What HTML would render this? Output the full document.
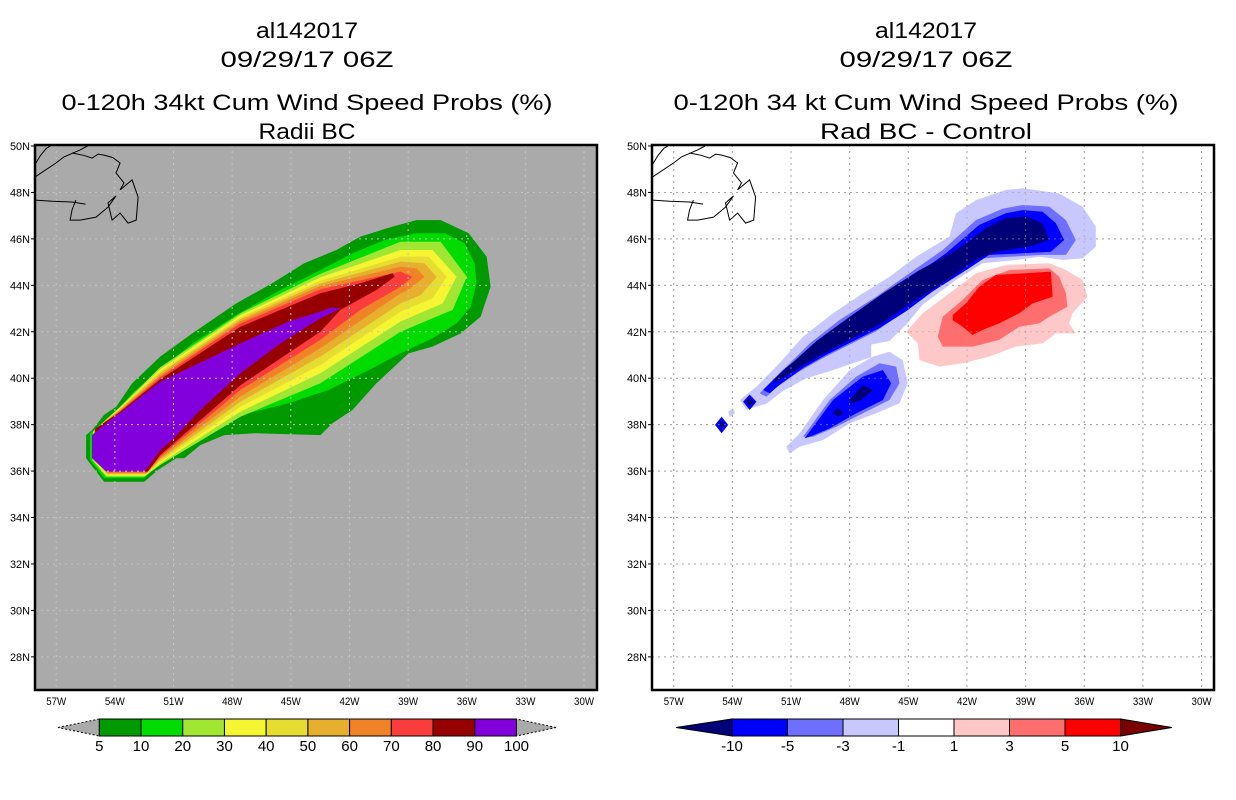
<!DOCTYPE html>
<html><head><meta charset="utf-8"><style>
html,body{margin:0;padding:0;background:#fff;}
svg{display:block;font-family:"Liberation Sans",sans-serif;}
</style></head><body>
<svg id="root" width="1236" height="800" viewBox="0 0 1236 800" xmlns="http://www.w3.org/2000/svg">
<defs>
<clipPath id="clipL"><rect x="35" y="145" width="562" height="545"/></clipPath>
<clipPath id="clipR"><rect x="652" y="145" width="562" height="545"/></clipPath>
</defs>
</svg>
<script>
// ---- data ----
const lonTicks = [-57,-54,-51,-48,-45,-42,-39,-36,-33,-30];
const lonTickLabels = ["57W","54W","51W","48W","45W","42W","39W","36W","33W","30W"];
const latTicks = [28,30,32,34,36,38,40,42,44,46,48,50];
const latTickLabels = ["28N","30N","32N","34N","36N","38N","40N","42N","44N","46N","48N","50N"];

const probLevels = ["5","10","20","30","40","50","60","70","80","90","100"];
const probColors = ["#009900","#00dc00","#a0e632","#f5f532","#e6dc32","#e6af2d","#f08228","#fa3c3c","#960000","#8200dc"];
const diffLevels = ["-10","-5","-3","-1","1","3","5","10"];
const diffColors = ["#0000ff","#6e6eff","#c8c8ff","#ffffff","#ffc8c8","#ff6e6e","#ff0000"];
const diffLowColor = "#000078";
const diffHighColor = "#780000";

// probability contours (lon, lat) - left panel, levels 5..90
const prob5 = [[-54.55,35.54],[-52.5,35.54],[-51.79,36.05],[-50.86,36.55],[-50.45,36.55],[-49.63,37.12],[-48.4,37.55],[-46.76,37.63],[-43.48,37.55],[-42.87,38.06],[-41.85,38.63],[-40.62,39.78],[-38.98,41.07],[-37.75,41.36],[-36.31,41.93],[-35.29,42.65],[-34.78,43.94],[-34.98,45.23],[-35.9,46.24],[-37.34,46.81],[-38.57,46.81],[-39.8,46.53],[-41.44,46.1],[-42.67,45.52],[-44.31,44.95],[-45.95,44.09],[-47.79,43.22],[-50.04,41.93],[-51.68,40.93],[-53.11,39.78],[-53.93,38.77],[-54.55,38.42],[-55.16,37.77],[-55.47,37.55],[-55.47,36.55]];
const prob10 = [[-55.27,37.63],[-54.55,38.06],[-53.94,38.49],[-53.12,39.35],[-51.68,40.35],[-50.04,41.5],[-47.79,42.72],[-45.53,43.8],[-43.48,44.66],[-41.84,45.38],[-40.2,45.95],[-38.57,46.24],[-37.13,46.24],[-36.11,45.81],[-35.6,44.95],[-35.5,44.09],[-35.8,43.08],[-36.52,42.36],[-37.75,41.72],[-39.39,41.07],[-41.02,40.35],[-43.07,39.49],[-45.12,38.92],[-47.17,38.49],[-48.81,37.91],[-50.24,37.2],[-51.27,36.62],[-51.88,36.19],[-52.5,35.69],[-54.55,35.69],[-55.27,36.48]];
const prob20 = [[-55.12,37.7],[-53.73,38.77],[-51.68,40.47],[-47.58,42.79],[-43.49,44.49],[-39.39,45.88],[-37.34,45.88],[-36.0,44.37],[-36.72,42.94],[-39.39,42.0],[-43.49,39.78],[-47.58,38.34],[-51.68,36.26],[-52.5,35.76],[-54.45,35.76],[-55.17,36.48]];
const prob30 = [[-55.1,37.72],[-53.73,38.74],[-51.68,40.38],[-47.58,42.71],[-43.49,44.34],[-39.39,45.52],[-37.75,45.52],[-36.52,44.37],[-37.23,43.22],[-39.39,42.44],[-43.49,40.21],[-47.58,38.56],[-51.68,36.33],[-52.45,35.8],[-54.42,35.8],[-55.12,36.5]];
const prob40 = [[-55.08,37.74],[-53.73,38.7],[-51.68,40.3],[-47.58,42.62],[-43.49,44.2],[-39.39,45.23],[-37.95,45.23],[-37.03,44.37],[-37.75,43.44],[-39.39,42.87],[-43.49,40.57],[-47.58,38.77],[-51.68,36.41],[-52.42,35.84],[-54.4,35.84],[-55.1,36.52]];
const prob50 = [[-55.06,37.76],[-53.73,38.66],[-51.68,40.21],[-47.58,42.54],[-43.49,44.08],[-39.39,45.02],[-38.16,44.95],[-37.54,44.37],[-38.36,43.58],[-39.39,43.22],[-43.49,40.93],[-47.58,38.99],[-51.68,36.48],[-52.4,35.88],[-54.38,35.88],[-55.08,36.54]];
const prob60 = [[-55.04,37.78],[-53.73,38.62],[-51.68,40.12],[-47.58,42.45],[-43.49,43.97],[-39.39,44.8],[-38.57,44.73],[-38.16,44.37],[-38.98,43.8],[-39.39,43.65],[-43.49,41.29],[-47.58,39.21],[-51.68,36.55],[-52.37,35.92],[-54.36,35.92],[-55.06,36.56]];
const prob70 = [[-55.02,37.8],[-53.73,38.58],[-51.68,40.04],[-47.58,42.36],[-43.49,43.83],[-39.39,44.59],[-38.77,44.37],[-39.39,43.94],[-41.44,42.94],[-43.49,41.65],[-47.58,39.49],[-51.68,36.62],[-52.34,35.95],[-54.34,35.95],[-55.04,36.58]];
const prob80 = [[-55.0,37.82],[-53.73,38.55],[-51.68,39.95],[-47.58,42.22],[-43.49,43.66],[-41.44,44.09],[-39.8,44.52],[-39.7,44.37],[-40.62,43.8],[-42.46,42.94],[-43.49,42.0],[-47.58,39.7],[-51.68,36.69],[-52.32,35.98],[-54.32,35.98],[-55.02,36.6]];
const prob90 = [[-55.17,37.55],[-54.45,38.06],[-53.5,38.65],[-51.68,39.85],[-47.58,41.5],[-45.12,42.44],[-43.49,42.87],[-42.87,43.05],[-42.46,43.0],[-43.49,42.58],[-45.53,41.5],[-47.58,40.21],[-49.63,38.63],[-51.06,37.35],[-51.68,36.9],[-52.3,36.19],[-52.5,35.98],[-54.45,35.98],[-55.17,36.55]];

// difference contours (lon, lat) - right panel
const diffLightMain = [[-52.77,39.64],[-51.75,40.5],[-50.38,41.79],[-48.85,42.8],[-47.32,43.66],[-45.96,44.37],[-44.6,45.23],[-42.9,46.1],[-42.56,47.1],[-41.54,47.67],[-40.0,48.11],[-39.15,48.18],[-37.28,47.96],[-36.09,47.39],[-35.41,46.53],[-35.41,45.66],[-36.09,45.16],[-37.11,45.09],[-38.3,45.23],[-39.5,45.09],[-41.2,44.95],[-42.56,44.23],[-44.26,43.17],[-45.11,42.3],[-45.96,41.6],[-46.9,41.45],[-46.9,40.9],[-48.0,40.6],[-49.02,40.3],[-50.21,40.0],[-51.41,39.45],[-52.26,38.9],[-53.28,38.65],[-53.62,39.06]];
const diffMedMain = [[-52.6,39.35],[-51.58,40.21],[-50.04,41.5],[-48.51,42.51],[-46.64,43.51],[-44.94,44.52],[-43.24,45.52],[-41.54,46.81],[-40.18,47.3],[-39.15,47.46],[-37.79,47.39],[-36.94,46.81],[-36.43,45.95],[-36.94,45.31],[-38.13,45.31],[-39.84,45.23],[-41.2,45.16],[-42.56,44.4],[-44.26,43.6],[-45.45,42.74],[-46.64,42.02],[-48.0,41.45],[-49.36,40.87],[-50.56,40.3],[-51.75,39.6],[-52.26,39.2]];
const diffBlueMain = [[-52.43,39.49],[-51.41,40.35],[-49.87,41.36],[-48.34,42.36],[-46.47,43.37],[-44.77,44.37],[-43.07,45.38],[-41.37,46.6],[-40.01,47.1],[-39.15,47.24],[-38.13,47.17],[-37.45,46.67],[-37.03,45.95],[-37.71,45.45],[-39.15,45.38],[-40.86,45.31],[-42.05,44.65],[-43.75,43.74],[-45.11,42.88],[-46.47,42.16],[-47.83,41.59],[-49.19,41.01],[-50.38,40.44],[-51.58,39.72],[-52.09,39.35]];
const diffNavyMain = [[-51.92,39.92],[-51.07,40.55],[-49.7,41.6],[-48.0,42.65],[-46.3,43.65],[-44.43,44.65],[-42.56,45.5],[-41.03,46.45],[-40.01,46.9],[-38.99,46.96],[-38.13,46.67],[-37.79,45.95],[-38.81,45.67],[-40.52,45.45],[-41.54,45.1],[-43.24,44.1],[-44.94,43.2],[-46.3,42.4],[-47.66,41.8],[-49.02,41.2],[-50.21,40.65],[-51.24,40.1],[-51.75,39.85]];
const diffLightSouth = [[-51.24,37.05],[-50.56,37.63],[-49.36,39.06],[-48.0,40.35],[-46.81,40.93],[-45.96,41.14],[-45.28,40.78],[-45.03,39.78],[-45.45,38.92],[-46.64,38.49],[-48.0,38.06],[-49.36,37.34],[-50.56,37.05],[-51.07,36.76]];
const diffMedSouth = [[-50.38,37.48],[-49.02,39.06],[-47.66,40.07],[-46.47,40.64],[-45.62,40.5],[-45.45,39.78],[-45.96,39.06],[-47.32,38.49],[-48.68,37.91],[-49.87,37.48]];
const diffBlueSouth = [[-50.3,37.41],[-48.85,39.06],[-47.32,40.07],[-46.3,40.35],[-45.88,39.78],[-46.3,39.06],[-47.66,38.49],[-49.02,37.84],[-50.04,37.48]];
const diffNavySouth1 = [[-48.0,39.06],[-47.32,39.71],[-46.81,39.49],[-47.41,39.06],[-47.92,38.92]];
const diffNavySouth2 = [[-48.85,38.56],[-48.6,38.7],[-48.31,38.52],[-48.6,38.32]];
const diffBlueDiamond1 = [[-54.89,37.99],[-54.55,38.34],[-54.21,37.99],[-54.55,37.63]];
const diffNavyDiamond1 = [[-54.72,37.99],[-54.55,38.17],[-54.38,37.99],[-54.55,37.8]];
const diffBlueDiamond2 = [[-53.45,38.99],[-53.11,39.3],[-52.77,38.99],[-53.11,38.63]];
const diffNavyDiamond2 = [[-53.3,38.99],[-53.11,39.17],[-52.92,38.99],[-53.11,38.78]];
const diffLightFleck = [[-54.21,38.56],[-53.96,38.7],[-53.87,38.49],[-54.13,38.34]];
const diffPink = [[-45.11,42.0],[-44.26,42.8],[-42.9,43.66],[-41.54,44.52],[-40.0,44.88],[-37.79,44.95],[-36.94,44.66],[-36.09,44.23],[-35.84,43.51],[-36.6,42.8],[-36.77,42.36],[-36.43,41.93],[-37.45,41.93],[-38.13,41.5],[-39.5,41.36],[-40.86,40.93],[-42.22,40.64],[-43.41,40.5],[-44.43,40.78],[-44.51,41.5]];
const diffSalmon = [[-43.49,41.79],[-43.24,42.65],[-42.22,43.37],[-41.2,44.23],[-39.84,44.66],[-37.79,44.73],[-37.28,44.37],[-36.94,43.66],[-36.86,43.08],[-37.79,42.65],[-38.3,42.36],[-39.32,42.22],[-40.35,41.65],[-41.71,41.36],[-43.24,41.36]];
const diffRed = [[-42.73,42.72],[-42.05,43.22],[-41.37,43.94],[-40.52,44.45],[-38.99,44.52],[-37.71,44.59],[-37.62,43.51],[-38.64,43.22],[-39.32,42.8],[-40.35,42.36],[-41.2,42.08],[-41.71,41.86],[-42.22,42.22],[-42.73,42.5]];

// coastline (Newfoundland)
const coast1 = [[-58.09,48.66],[-57.01,49.27],[-56.6,49.53],[-55.78,49.83],[-55.4,50.0]];
const coast2 = [[-56.19,49.7],[-55.6,49.6],[-55.17,49.48],[-54.85,49.65],[-54.55,49.61],[-54.1,49.5],[-53.73,49.27],[-53.94,48.84],[-53.53,48.41],[-53.73,48.11],[-53.12,48.54],[-52.81,47.8],[-52.91,46.81],[-53.32,46.68],[-53.73,47.11],[-54.14,46.81],[-54.35,47.55],[-53.94,47.85],[-54.35,47.37],[-54.96,46.94],[-55.78,46.81],[-56.29,46.81],[-56.19,47.24],[-55.99,47.67]];
const coast3 = [[-58.09,47.67],[-57.2,47.62],[-56.19,47.59],[-55.5,47.5]];
const coast4 = [[-58.09,49.2],[-57.8,49.6],[-57.5,49.9],[-57.3,50.0]];

// ---- projection ----
const NS = "http://www.w3.org/2000/svg";
const svg = document.getElementById('root');
const panelLeft = {x0:35, y0:145, w:562, h:545, lonRef:56.2};
const panelRight = {x0:652, y0:145, w:562, h:545, lonRef:673.7};
const degX = 19.55, degY = 23.22;
function xOf(p, lon){ return p.lonRef + (lon + 57) * degX; }
function yOf(lat){ return 146 + (50 - lat) * degY; }
function mk(tag, attrs, parent){
  const e = document.createElementNS(NS, tag);
  for (const k in attrs) e.setAttribute(k, attrs[k]);
  (parent || svg).appendChild(e);
  return e;
}
function pts(p, arr){ return arr.map(d => xOf(p,d[0]).toFixed(1)+","+yOf(d[1]).toFixed(1)).join(" "); }
function poly(p, arr, fill, g, name){
  const e = mk('polygon', {points: pts(p,arr), fill: fill}, g);
  
  
  return e;
}
function txt(x, y, s, size, anchor, len, parent){
  const e = mk('text', {x:x, y:y, 'font-size':size, 'text-anchor':anchor||'middle', fill:'#000'}, parent);
  if (len){ e.setAttribute('textLength', len); e.setAttribute('lengthAdjust','spacingAndGlyphs'); }
  e.textContent = s;
  return e;
}

function titles(cx, lines, widths, side){
  const ys = [38, 67, 110, 139];
  lines.forEach((s,i) => {
    const t = txt(cx, ys[i], s, 22, 'middle', widths[i]);
    
    
  });
}
titles(307, ["al142017","09/29/17 06Z","0-120h 34kt Cum Wind Speed Probs (%)","Radii BC"], [102,173,491,97], 'left');
titles(926, ["al142017","09/29/17 06Z","0-120h 34 kt Cum Wind Speed Probs (%)","Rad BC - Control"], [102,173,505,212], 'right');

function panel(p, bg, clipId, side){
  const g = mk('g', {'clip-path':'url(#'+clipId+')'});
  
  
  const r = mk('rect', {x:p.x0, y:p.y0, width:p.w, height:p.h, fill:bg}, g);
  
  
  return g;
}

function grid(p, g, color, side){
  lonTicks.forEach(lon => {
    const x = xOf(p, lon);
    const l = mk('line', {x1:x, y1:p.y0, x2:x, y2:p.y0+p.h, stroke:color, 'stroke-width':1, 'stroke-dasharray':'2,4'}, g);
    
    
  });
  latTicks.forEach(lat => {
    if (lat >= 50) return;
    const y = yOf(lat);
    const l = mk('line', {x1:p.x0, y1:y, x2:p.x0+p.w, y2:y, stroke:color, 'stroke-width':1, 'stroke-dasharray':'2,4'}, g);
    
    
  });
}

function coast(p, g, side){
  [coast1, coast2, coast3, coast4].forEach(c => {
    const e = mk('polyline', {points: pts(p,c), fill:'none', stroke:'#000', 'stroke-width':1}, g);
    
    
  });
}

function axes(p, side){
  const f = mk('rect', {x:p.x0, y:p.y0, width:p.w, height:p.h, fill:'none', stroke:'#000', 'stroke-width':2.5});
  
  
  latTicks.forEach((lat,i) => {
    const y = yOf(lat);
    const t = mk('line', {x1:p.x0-4, y1:y, x2:p.x0, y2:y, stroke:'#000', 'stroke-width':1});
    
    
    const l = txt(p.x0-5, y+4, latTickLabels[i], 11, 'end', 20);
    
    
  });
  lonTicks.forEach((lon,i) => {
    const x = xOf(p, lon);
    const l = txt(x, 705, lonTickLabels[i], 11, 'middle', 20);
    
    
  });
}

// Left panel
const gL = panel(panelLeft, '#aaaaaa', 'clipL', 'left');
[prob5,prob10,prob20,prob30,prob40,prob50,prob60,prob70,prob80,prob90].forEach((c,i) => {
  poly(panelLeft, c, probColors[i], gL, 'prob-contour-' + probLevels[i]);
});
grid(panelLeft, gL, '#c4c4c4', 'left');
coast(panelLeft, gL, 'left');
axes(panelLeft, 'left');

// Right panel
const gR = panel(panelRight, '#ffffff', 'clipR', 'right');
grid(panelRight, gR, '#aaaaaa', 'right');
poly(panelRight, diffPink, diffColors[4], gR, 'diff-pos-1');
poly(panelRight, diffSalmon, diffColors[5], gR, 'diff-pos-3');
poly(panelRight, diffRed, diffColors[6], gR, 'diff-pos-5');
poly(panelRight, diffLightMain, diffColors[2], gR, 'diff-neg-1-main');
poly(panelRight, diffMedMain, diffColors[1], gR, 'diff-neg-3-main');
poly(panelRight, diffBlueMain, diffColors[0], gR, 'diff-neg-5-main');
poly(panelRight, diffNavyMain, diffLowColor, gR, 'diff-neg-10-main');
poly(panelRight, diffLightSouth, diffColors[2], gR, 'diff-neg-1-south');
poly(panelRight, diffMedSouth, diffColors[1], gR, 'diff-neg-3-south');
poly(panelRight, diffBlueSouth, diffColors[0], gR, 'diff-neg-5-south');
poly(panelRight, diffNavySouth1, diffLowColor, gR, 'diff-neg-10-south-a');
poly(panelRight, diffNavySouth2, diffLowColor, gR, 'diff-neg-10-south-b');
poly(panelRight, diffLightFleck, diffColors[2], gR, 'diff-neg-1-fleck');
poly(panelRight, diffBlueDiamond1, diffColors[0], gR, 'diff-neg-5-diamond-a');
poly(panelRight, diffNavyDiamond1, diffLowColor, gR, 'diff-neg-10-diamond-a');
poly(panelRight, diffBlueDiamond2, diffColors[0], gR, 'diff-neg-5-diamond-b');
poly(panelRight, diffNavyDiamond2, diffLowColor, gR, 'diff-neg-10-diamond-b');
coast(panelRight, gR, 'right');
grid(panelRight, gR, 'rgba(160,160,160,0.6)', 'right-top');
axes(panelRight, 'right');

// Colorbars
function colorbar(x0, x1, tipL, tipR, colors, labels, lowFill, highFill, dashedTips, side){
  const y0 = 719, y1 = 736, ym = (y0+y1)/2;
  const n = colors.length, w = (x1-x0)/n;
  const g = mk('g', {});
  
  
  const tl = mk('polygon', {points: tipL+','+ym+' '+x0+','+y0+' '+x0+','+y1, fill:lowFill, stroke:'#000', 'stroke-width':1, 'stroke-dasharray': dashedTips?'2,2':'none'}, g);
  
  
  const tr = mk('polygon', {points: tipR+','+ym+' '+x1+','+y0+' '+x1+','+y1, fill:highFill, stroke:'#000', 'stroke-width':1, 'stroke-dasharray': dashedTips?'2,2':'none'}, g);
  
  
  colors.forEach((c,i) => {
    const r = mk('rect', {x:x0+i*w, y:y0, width:w, height:y1-y0, fill:c, stroke:'#000', 'stroke-width':1}, g);
    
    
  });
  labels.forEach((s,i) => {
    const t = txt(x0+i*w, 751, s, 15, 'middle', null, g);
    
    
  });
}
colorbar(99.3, 516.5, 58, 556, probColors, probLevels, '#aaaaaa', '#aaaaaa', true, 'left');
colorbar(732, 1120.5, 676, 1172, diffColors, diffLevels, diffLowColor, diffHighColor, false, 'right');
</script>
</body></html>
